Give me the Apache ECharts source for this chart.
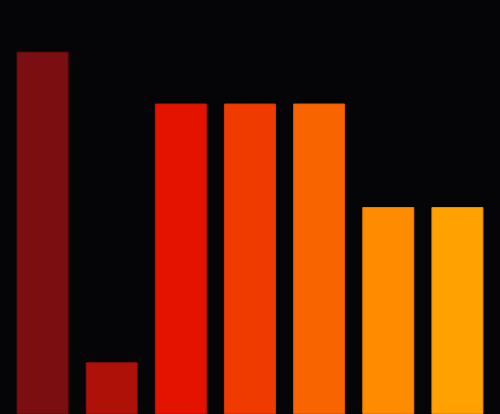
<!DOCTYPE html>
<html><head><meta charset="utf-8">
<script src="https://cdn.jsdelivr.net/npm/echarts@6/dist/echarts.min.js"></script>
<style>html,body{margin:0;padding:0;background:#050407;}#c{width:500px;height:414px;}</style>
</head><body><div id="c"></div>
<script>
const categories = ['A','B','C','D','E','F','G'];
const values = [7, 1, 6, 6, 6, 4, 4];
const colors = ['#7b0e10','#ad1108','#e31300','#ef3a00','#f86500','#ff8c00','#ffa100'];
const borders = ['#6a0b0d','#960e06','#c81100','#d63300','#de5a00','#e57e00','#e59000'];
const chart = echarts.init(document.getElementById('c'));
chart.setOption({
  backgroundColor: '#050407',
  animation: false,
  grid: {left: 8, right: 8, top: 0, bottom: 0},
  xAxis: {type: 'category', data: categories, show: false},
  yAxis: {type: 'value', min: 0, max: 8, show: false},
  series: [{
    type: 'bar',
    barWidth: 52,
    data: values.map((v, i) => ({value: v, itemStyle: {color: colors[i], borderColor: borders[i], borderWidth: 1}}))
  }]
});
</script></body></html>
